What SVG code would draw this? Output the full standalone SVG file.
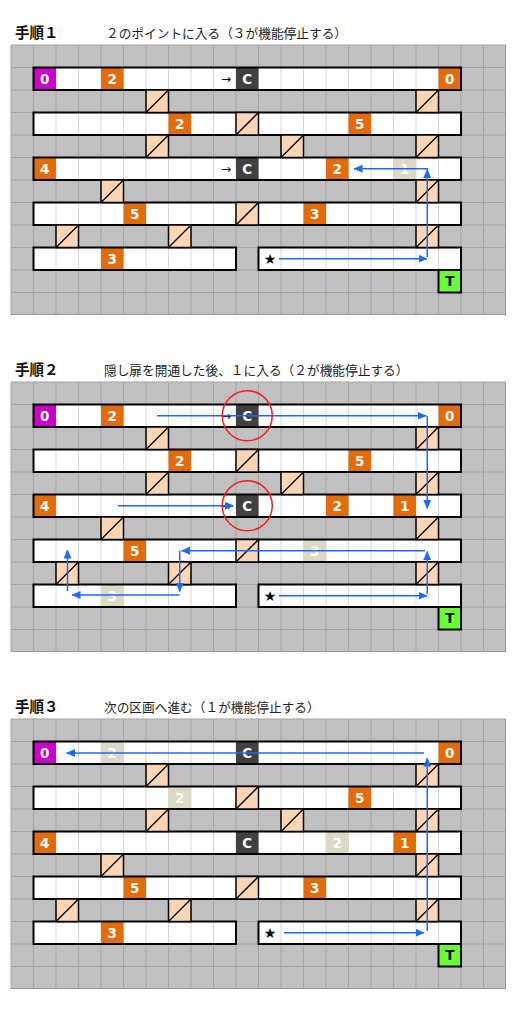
<svg xmlns="http://www.w3.org/2000/svg" xmlns:xlink="http://www.w3.org/1999/xlink" width="518" height="1012" viewBox="0 0 518 1012">
<style>
.bg{fill:#c0c0c0}
.grid{stroke:#a3a3a3;stroke-width:1;fill:none}
.wh{fill:#ffffff}
.sep{stroke:#d6d6d6;stroke-width:1;fill:none}
.cor{fill:none;stroke:#000;stroke-width:2}
.o{fill:#e36c09}
.m{fill:#cc00cc}
.d{fill:#404040}
.f{fill:#ddd9c4}
.lbl{font-family:"DejaVu Sans",sans-serif;font-weight:bold;font-size:13.5px;fill:#fff;text-anchor:middle}
.blk{font-family:"DejaVu Sans",sans-serif;font-size:12px;fill:#000;text-anchor:middle}
.star{font-family:"DejaVu Sans",sans-serif;font-size:14px;fill:#000;text-anchor:middle}
.tl{font-family:"Noto Sans CJK JP",sans-serif;font-weight:bold;font-size:14.5px;fill:#111}
.ds{font-family:"Noto Sans CJK JP",sans-serif;font-size:12.7px;fill:#222}
.conn{fill:none;stroke:#1a6aff;stroke-width:1.5;marker-end:url(#ah)}
.ring{fill:none;stroke:#ff1a1a;stroke-width:1.5}
</style>
<defs>
<marker id="ah" markerUnits="userSpaceOnUse" markerWidth="9" markerHeight="8" refX="8.5" refY="4" orient="auto">
<path d="M0,0 L9,4 L0,8 z" fill="#1a6aff"/>
</marker>
<g id="gate">
<rect x="0" y="0" width="22.5" height="22.5" fill="#fcd5b4" stroke="#000" stroke-width="1.5"/>
<line x1="0" y1="22.5" x2="22.5" y2="0" stroke="#000" stroke-width="1.3"/>
</g>
<g id="board">
<rect class="bg" x="11" y="0" width="495" height="270"/>
<path class="grid" d="M11,0V270M33.5,0V270M56,0V270M78.5,0V270M101,0V270M123.5,0V270M146,0V270M168.5,0V270M191,0V270M213.5,0V270M236,0V270M258.5,0V270M281,0V270M303.5,0V270M326,0V270M348.5,0V270M371,0V270M393.5,0V270M416,0V270M438.5,0V270M461,0V270M483.5,0V270M11,0H506M11,22.5H506M11,45H506M11,67.5H506M11,90H506M11,112.5H506M11,135H506M11,157.5H506M11,180H506M11,202.5H506M11,225H506M11,247.5H506"/>
<path d="M505.5,0V270.5M11,269.5H506" stroke="#999" stroke-width="1" fill="none"/>
<rect class="wh" x="33.5" y="22.5" width="427.5" height="22.5"/>
<rect class="wh" x="33.5" y="67.5" width="427.5" height="22.5"/>
<rect class="wh" x="33.5" y="112.5" width="427.5" height="22.5"/>
<rect class="wh" x="33.5" y="157.5" width="427.5" height="22.5"/>
<rect class="wh" x="33.5" y="202.5" width="202.5" height="22.5"/>
<rect class="wh" x="258.5" y="202.5" width="202.5" height="22.5"/>
<path class="sep" d="M56,22.5V45M78.5,22.5V45M101,22.5V45M123.5,22.5V45M146,22.5V45M168.5,22.5V45M191,22.5V45M213.5,22.5V45M236,22.5V45M258.5,22.5V45M281,22.5V45M303.5,22.5V45M326,22.5V45M348.5,22.5V45M371,22.5V45M393.5,22.5V45M416,22.5V45M438.5,22.5V45
M56,67.5V90M78.5,67.5V90M101,67.5V90M123.5,67.5V90M146,67.5V90M168.5,67.5V90M191,67.5V90M213.5,67.5V90M236,67.5V90M258.5,67.5V90M281,67.5V90M303.5,67.5V90M326,67.5V90M348.5,67.5V90M371,67.5V90M393.5,67.5V90M416,67.5V90M438.5,67.5V90
M56,112.5V135M78.5,112.5V135M101,112.5V135M123.5,112.5V135M146,112.5V135M168.5,112.5V135M191,112.5V135M213.5,112.5V135M236,112.5V135M258.5,112.5V135M281,112.5V135M303.5,112.5V135M326,112.5V135M348.5,112.5V135M371,112.5V135M393.5,112.5V135M416,112.5V135M438.5,112.5V135
M56,157.5V180M78.5,157.5V180M101,157.5V180M123.5,157.5V180M146,157.5V180M168.5,157.5V180M191,157.5V180M213.5,157.5V180M236,157.5V180M258.5,157.5V180M281,157.5V180M303.5,157.5V180M326,157.5V180M348.5,157.5V180M371,157.5V180M393.5,157.5V180M416,157.5V180M438.5,157.5V180
M56,202.5V225M78.5,202.5V225M101,202.5V225M123.5,202.5V225M146,202.5V225M168.5,202.5V225M191,202.5V225M213.5,202.5V225M281,202.5V225M303.5,202.5V225M326,202.5V225M348.5,202.5V225M371,202.5V225M393.5,202.5V225M416,202.5V225M438.5,202.5V225"/>
</g>
<g id="frames">
<rect class="cor" x="33.5" y="22.5" width="427.5" height="22.5"/>
<rect class="cor" x="33.5" y="67.5" width="427.5" height="22.5"/>
<rect class="cor" x="33.5" y="112.5" width="427.5" height="22.5"/>
<rect class="cor" x="33.5" y="157.5" width="427.5" height="22.5"/>
<rect class="cor" x="33.5" y="202.5" width="202.5" height="22.5"/>
<rect class="cor" x="258.5" y="202.5" width="202.5" height="22.5"/>
<use xlink:href="#gate" x="146" y="45"/>
<use xlink:href="#gate" x="416" y="45"/>
<use xlink:href="#gate" x="236" y="67.5"/>
<use xlink:href="#gate" x="146" y="90"/>
<use xlink:href="#gate" x="281" y="90"/>
<use xlink:href="#gate" x="416" y="90"/>
<use xlink:href="#gate" x="101" y="135"/>
<use xlink:href="#gate" x="416" y="135"/>
<use xlink:href="#gate" x="236" y="157.5"/>
<use xlink:href="#gate" x="56" y="180"/>
<use xlink:href="#gate" x="168.5" y="180"/>
<use xlink:href="#gate" x="416" y="180"/>
<rect x="438.5" y="225" width="22.5" height="22.5" fill="#66ff33" stroke="#000" stroke-width="2"/>
</g>
</defs>

<!-- Panel 1 -->
<g id="panel1" transform="translate(0,45)">
<text class="tl" x="15" y="-7">手順１</text>
<text class="ds" x="106" y="-7">２のポイントに入る（３が機能停止する）</text>
<use xlink:href="#board"/>
<g id="p1-cells">
<g id="p1-r1c1"><rect class="m" x="33.5" y="22.5" width="22.5" height="22.5"/><text class="lbl" x="44.75" y="38.6">0</text></g>
<g id="p1-r1c4"><rect class="o" x="101" y="22.5" width="22.5" height="22.5"/><text class="lbl" x="112.25" y="38.6">2</text></g>
<g id="p1-r1c9"><text class="blk" x="226" y="38">→</text></g>
<g id="p1-r1c10"><rect class="d" x="236" y="22.5" width="22.5" height="22.5"/><text class="lbl" x="247.25" y="38.6">C</text></g>
<g id="p1-r1c19"><rect class="o" x="438.5" y="22.5" width="22.5" height="22.5"/><text class="lbl" x="449.75" y="38.6">0</text></g>
<g id="p1-r3c7"><rect class="o" x="168.5" y="67.5" width="22.5" height="22.5"/><text class="lbl" x="179.75" y="83.6">2</text></g>
<g id="p1-r3c15"><rect class="o" x="348.5" y="67.5" width="22.5" height="22.5"/><text class="lbl" x="359.75" y="83.6">5</text></g>
<g id="p1-r5c1"><rect class="o" x="33.5" y="112.5" width="22.5" height="22.5"/><text class="lbl" x="44.75" y="128.6">4</text></g>
<g id="p1-r5c9"><text class="blk" x="226" y="128">→</text></g>
<g id="p1-r5c10"><rect class="d" x="236" y="112.5" width="22.5" height="22.5"/><text class="lbl" x="247.25" y="128.6">C</text></g>
<g id="p1-r5c14"><rect class="o" x="326" y="112.5" width="22.5" height="22.5"/><text class="lbl" x="337.25" y="128.6">2</text></g>
<g id="p1-r5c17"><rect class="f" x="393.5" y="112.5" width="22.5" height="22.5"/><text class="lbl" x="404.75" y="128.6">1</text></g>
<g id="p1-r7c5"><rect class="o" x="123.5" y="157.5" width="22.5" height="22.5"/><text class="lbl" x="134.75" y="173.6">5</text></g>
<g id="p1-r7c13"><rect class="o" x="303.5" y="157.5" width="22.5" height="22.5"/><text class="lbl" x="314.75" y="173.6">3</text></g>
<g id="p1-r9c4"><rect class="o" x="101" y="202.5" width="22.5" height="22.5"/><text class="lbl" x="112.25" y="218.6">3</text></g>
</g>
<use xlink:href="#frames"/>
<g id="p1-r9c11"><text class="star" x="270" y="219">★</text></g>
<g id="p1-T"><text class="lbl" x="449.75" y="241.1" style="fill:#000">T</text></g>
<g id="p1-connectors">
<path class="conn" d="M279,213.75H427"/>
<path class="conn" d="M427.25,212V124.5"/>
<path class="conn" d="M428,123.75H354"/>
</g>
</g>

<!-- Panel 2 -->
<g id="panel2" transform="translate(0,382)">
<text class="tl" x="15" y="-7">手順２</text>
<text class="ds" x="104" y="-7">隠し扉を開通した後、１に入る（２が機能停止する）</text>
<use xlink:href="#board"/>
<g id="p2-cells">
<g id="p2-r1c1"><rect class="m" x="33.5" y="22.5" width="22.5" height="22.5"/><text class="lbl" x="44.75" y="38.6">0</text></g>
<g id="p2-r1c4"><rect class="o" x="101" y="22.5" width="22.5" height="22.5"/><text class="lbl" x="112.25" y="38.6">2</text></g>
<g id="p2-r1c9"><text class="blk" x="226" y="38">→</text></g>
<g id="p2-r1c10"><rect class="d" x="236" y="22.5" width="22.5" height="22.5"/><text class="lbl" x="247.25" y="38.6">C</text></g>
<g id="p2-r1c19"><rect class="o" x="438.5" y="22.5" width="22.5" height="22.5"/><text class="lbl" x="449.75" y="38.6">0</text></g>
<g id="p2-r3c7"><rect class="o" x="168.5" y="67.5" width="22.5" height="22.5"/><text class="lbl" x="179.75" y="83.6">2</text></g>
<g id="p2-r3c15"><rect class="o" x="348.5" y="67.5" width="22.5" height="22.5"/><text class="lbl" x="359.75" y="83.6">5</text></g>
<g id="p2-r5c1"><rect class="o" x="33.5" y="112.5" width="22.5" height="22.5"/><text class="lbl" x="44.75" y="128.6">4</text></g>
<g id="p2-r5c9"><text class="blk" x="226" y="128">→</text></g>
<g id="p2-r5c10"><rect class="d" x="236" y="112.5" width="22.5" height="22.5"/><text class="lbl" x="247.25" y="128.6">C</text></g>
<g id="p2-r5c14"><rect class="o" x="326" y="112.5" width="22.5" height="22.5"/><text class="lbl" x="337.25" y="128.6">2</text></g>
<g id="p2-r5c17"><rect class="o" x="393.5" y="112.5" width="22.5" height="22.5"/><text class="lbl" x="404.75" y="128.6">1</text></g>
<g id="p2-r7c5"><rect class="o" x="123.5" y="157.5" width="22.5" height="22.5"/><text class="lbl" x="134.75" y="173.6">5</text></g>
<g id="p2-r7c13"><rect class="f" x="303.5" y="157.5" width="22.5" height="22.5"/><text class="lbl" x="314.75" y="173.6">3</text></g>
<g id="p2-r9c4"><rect class="f" x="101" y="202.5" width="22.5" height="22.5"/><text class="lbl" x="112.25" y="218.6">3</text></g>
</g>
<use xlink:href="#frames"/>
<g id="p2-r9c11"><text class="star" x="270" y="219">★</text></g>
<g id="p2-T"><text class="lbl" x="449.75" y="241.1" style="fill:#000">T</text></g>
<g id="p2-connectors">
<path class="conn" d="M157,33.75H426"/>
<path class="conn" d="M427.25,33.75V126.5"/>
<path class="conn" d="M118,123.75H233.5"/>
<path class="conn" d="M279,213.75H427"/>
<path class="conn" d="M427.25,212V169.5"/>
<path class="conn" d="M425,168.75H181.5"/>
<path class="conn" d="M179.75,168.75V209.5"/>
<path class="conn" d="M179.5,213H72"/>
<path class="conn" d="M67.5,209V168"/>
</g>
<g id="p2-marks">
<circle class="ring" cx="247.25" cy="33.75" r="25"/>
<circle class="ring" cx="247.25" cy="123.75" r="25"/>
</g>
</g>

<!-- Panel 3 -->
<g id="panel3" transform="translate(0,719)">
<text class="tl" x="15" y="-7">手順３</text>
<text class="ds" x="104" y="-7">次の区画へ進む（１が機能停止する）</text>
<use xlink:href="#board"/>
<g id="p3-cells">
<g id="p3-r1c1"><rect class="m" x="33.5" y="22.5" width="22.5" height="22.5"/><text class="lbl" x="44.75" y="38.6">0</text></g>
<g id="p3-r1c4"><rect class="f" x="101" y="22.5" width="22.5" height="22.5"/><text class="lbl" x="112.25" y="38.6">2</text></g>
<g id="p3-r1c10"><rect class="d" x="236" y="22.5" width="22.5" height="22.5"/><text class="lbl" x="247.25" y="38.6">C</text></g>
<g id="p3-r1c19"><rect class="o" x="438.5" y="22.5" width="22.5" height="22.5"/><text class="lbl" x="449.75" y="38.6">0</text></g>
<g id="p3-r3c7"><rect class="f" x="168.5" y="67.5" width="22.5" height="22.5"/><text class="lbl" x="179.75" y="83.6">2</text></g>
<g id="p3-r3c15"><rect class="o" x="348.5" y="67.5" width="22.5" height="22.5"/><text class="lbl" x="359.75" y="83.6">5</text></g>
<g id="p3-r5c1"><rect class="o" x="33.5" y="112.5" width="22.5" height="22.5"/><text class="lbl" x="44.75" y="128.6">4</text></g>
<g id="p3-r5c10"><rect class="d" x="236" y="112.5" width="22.5" height="22.5"/><text class="lbl" x="247.25" y="128.6">C</text></g>
<g id="p3-r5c14"><rect class="f" x="326" y="112.5" width="22.5" height="22.5"/><text class="lbl" x="337.25" y="128.6">2</text></g>
<g id="p3-r5c17"><rect class="o" x="393.5" y="112.5" width="22.5" height="22.5"/><text class="lbl" x="404.75" y="128.6">1</text></g>
<g id="p3-r7c5"><rect class="o" x="123.5" y="157.5" width="22.5" height="22.5"/><text class="lbl" x="134.75" y="173.6">5</text></g>
<g id="p3-r7c13"><rect class="o" x="303.5" y="157.5" width="22.5" height="22.5"/><text class="lbl" x="314.75" y="173.6">3</text></g>
<g id="p3-r9c4"><rect class="o" x="101" y="202.5" width="22.5" height="22.5"/><text class="lbl" x="112.25" y="218.6">3</text></g>
</g>
<use xlink:href="#frames"/>
<g id="p3-r9c11"><text class="star" x="270" y="219">★</text></g>
<g id="p3-T"><text class="lbl" x="449.75" y="241.1" style="fill:#000">T</text></g>
<g id="p3-connectors">
<path class="conn" d="M424,34H66.5"/>
<path class="conn" d="M427.25,212V39"/>
<path class="conn" d="M284,213.75H424"/>
</g>
</g>
</svg>
